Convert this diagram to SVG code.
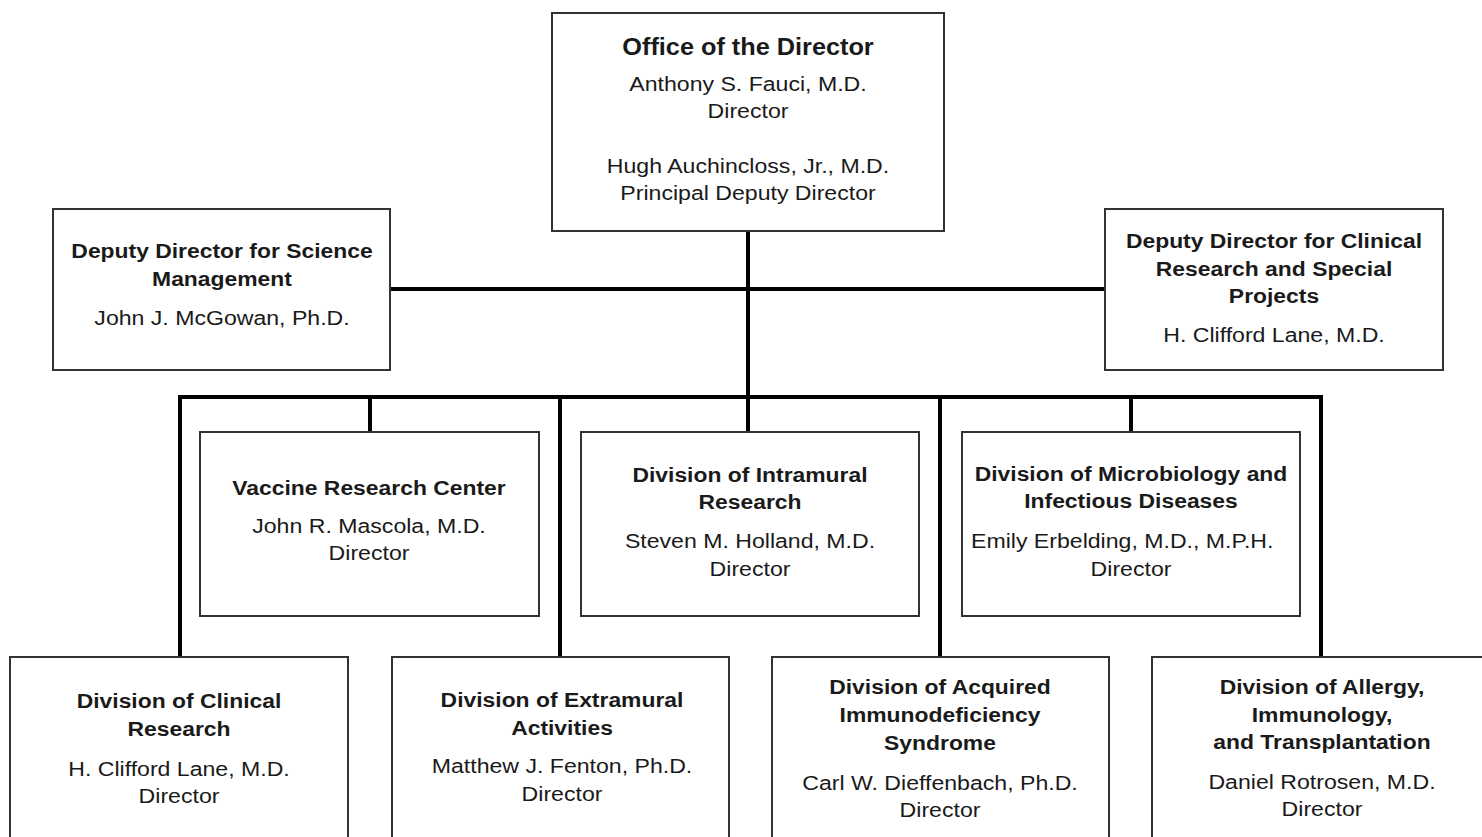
<svg xmlns="http://www.w3.org/2000/svg" width="1482" height="837" viewBox="0 0 1482 837">
<style>
.box{fill:#fff;stroke:#333;stroke-width:2}
.conn{stroke:#000;stroke-width:4;fill:none;stroke-linecap:square}
text{font-family:"Liberation Sans",Arial,sans-serif;fill:#1a1a1a;text-anchor:middle}
.t{font-weight:bold;font-size:20.8px}
.big{font-size:23px}
.n{font-size:21px}
</style>
<rect width="1482" height="837" fill="#fff"/>
<g id="connectors">
<path class="conn" d="M748 231 V397 M391 289 H1104 M180 397 H1321 M180 397 V656 M370 397 V431 M560 397 V656 M748 397 V431 M940 397 V656 M1131 397 V431 M1321 397 V656"/>
</g>
<g id="office-director">
<rect class="box" x="552" y="13" width="392" height="218"/>
<g transform="translate(748 0) scale(1.1 1)">
<text class="t big" x="0" y="55">Office of the Director</text>
<text class="n" x="0" y="91">Anthony S. Fauci, M.D.</text>
<text class="n" x="0" y="118">Director</text>
<text class="n" x="0" y="173">Hugh Auchincloss, Jr., M.D.</text>
<text class="n" x="0" y="200">Principal Deputy Director</text>
</g>
</g>
<g id="deputy-science">
<rect class="box" x="53" y="209" width="337" height="161"/>
<g transform="translate(222 0) scale(1.1 1)">
<text class="t" x="0" y="258">Deputy Director for Science</text>
<text class="t" x="0" y="286">Management</text>
<text class="n" x="0" y="325">John J. McGowan, Ph.D.</text>
</g>
</g>
<g id="deputy-clinical">
<rect class="box" x="1105" y="209" width="338" height="161"/>
<g transform="translate(1274 0) scale(1.1 1)">
<text class="t" x="0" y="248">Deputy Director for Clinical</text>
<text class="t" x="0" y="276">Research and Special</text>
<text class="t" x="0" y="303">Projects</text>
<text class="n" x="0" y="342">H. Clifford Lane, M.D.</text>
</g>
</g>
<g id="vaccine">
<rect class="box" x="200" y="432" width="339" height="184"/>
<g transform="translate(369 0) scale(1.1 1)">
<text class="t" x="0" y="495">Vaccine Research Center</text>
<text class="n" x="0" y="533">John R. Mascola, M.D.</text>
<text class="n" x="0" y="560">Director</text>
</g>
</g>
<g id="intramural">
<rect class="box" x="581" y="432" width="338" height="184"/>
<g transform="translate(750 0) scale(1.1 1)">
<text class="t" x="0" y="482">Division of Intramural</text>
<text class="t" x="0" y="509">Research</text>
<text class="n" x="0" y="548">Steven M. Holland, M.D.</text>
<text class="n" x="0" y="576">Director</text>
</g>
</g>
<g id="microbiology">
<rect class="box" x="962" y="432" width="338" height="184"/>
<g transform="translate(1131 0) scale(1.1 1)">
<text class="t" x="0" y="481">Division of Microbiology and</text>
<text class="t" x="0" y="508">Infectious Diseases</text>
<text class="n" x="-8" y="548">Emily Erbelding, M.D., M.P.H.</text>
<text class="n" x="0" y="576">Director</text>
</g>
</g>
<g id="clinical">
<rect class="box" x="10" y="657" width="338" height="200"/>
<g transform="translate(179 0) scale(1.1 1)">
<text class="t" x="0" y="708">Division of Clinical</text>
<text class="t" x="0" y="736">Research</text>
<text class="n" x="0" y="776">H. Clifford Lane, M.D.</text>
<text class="n" x="0" y="803">Director</text>
</g>
</g>
<g id="extramural">
<rect class="box" x="392" y="657" width="337" height="200"/>
<g transform="translate(562 0) scale(1.1 1)">
<text class="t" x="0" y="707">Division of Extramural</text>
<text class="t" x="0" y="735">Activities</text>
<text class="n" x="0" y="773">Matthew J. Fenton, Ph.D.</text>
<text class="n" x="0" y="801">Director</text>
</g>
</g>
<g id="aids">
<rect class="box" x="772" y="657" width="337" height="200"/>
<g transform="translate(940 0) scale(1.1 1)">
<text class="t" x="0" y="694">Division of Acquired</text>
<text class="t" x="0" y="722">Immunodeficiency</text>
<text class="t" x="0" y="750">Syndrome</text>
<text class="n" x="0" y="790">Carl W. Dieffenbach, Ph.D.</text>
<text class="n" x="0" y="817">Director</text>
</g>
</g>
<g id="allergy">
<rect class="box" x="1152" y="657" width="338" height="200"/>
<g transform="translate(1322 0) scale(1.1 1)">
<text class="t" x="0" y="694">Division of Allergy,</text>
<text class="t" x="0" y="722">Immunology,</text>
<text class="t" x="0" y="749">and Transplantation</text>
<text class="n" x="0" y="789">Daniel Rotrosen, M.D.</text>
<text class="n" x="0" y="816">Director</text>
</g>
</g>
</svg>
